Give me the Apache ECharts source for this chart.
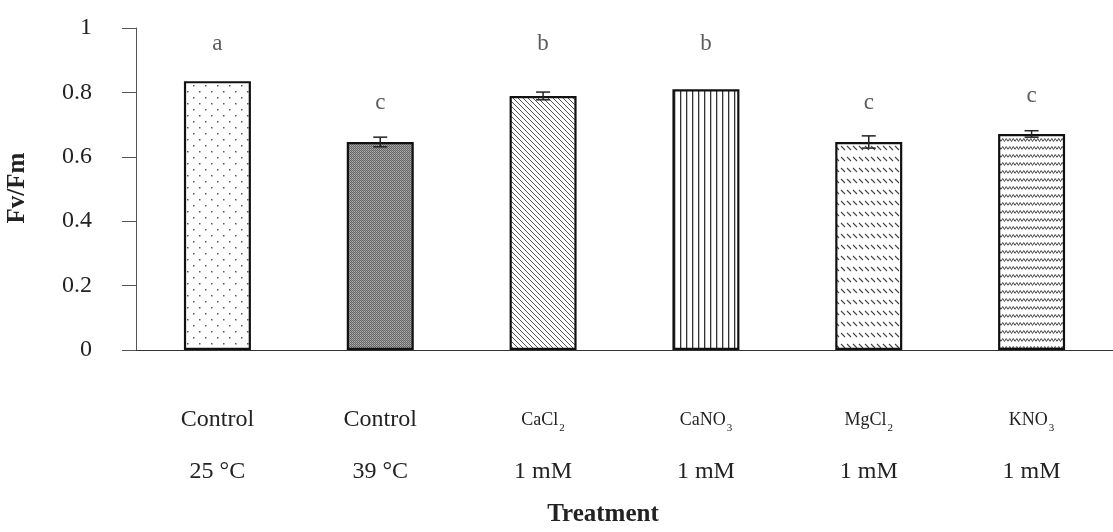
<!DOCTYPE html>
<html>
<head>
<meta charset="utf-8">
<script src="https://cdn.jsdelivr.net/npm/echarts@6/dist/echarts.min.js"></script>
<style>
html,body{margin:0;padding:0;background:#fff;}
#chart{width:1113px;height:532px;}
</style>
</head>
<body>
<div id="chart"></div>
<script>
// ---- data ----
var catLine1 = ['Control', 'Control', '{c|CaCl}{s|2}', '{c|CaNO}{s|3}', '{c|MgCl}{s|2}', '{c|KNO}{s|3}'];
var catLine2 = ['25 °C', '39 °C', '1 mM', '1 mM', '1 mM', '1 mM'];
var fvfm = [0.835, 0.646, 0.789, 0.810, 0.646, 0.671];
var errors = [0, 0.015, 0.012, 0, 0.019, 0.01];
var letters = ['a', 'c', 'b', 'b', 'c', 'c'];
var letterY = [0.95, 0.767, 0.95, 0.95, 0.767, 0.79];
var yTicks = [0, 0.2, 0.4, 0.6, 0.8, 1];

// ---- patterns ----
function makePattern(w, h, draw) {
  var c = document.createElement('canvas');
  c.width = w; c.height = h;
  var ctx = c.getContext('2d');
  ctx.fillStyle = '#fff';
  ctx.fillRect(0, 0, w, h);
  draw(ctx, w, h);
  return { image: c, repeat: 'repeat' };
}
var patDots = makePattern(12, 12, function (ctx) {
  ctx.fillStyle = '#555';
  ctx.fillRect(1, 1, 1.5, 1.5);
  ctx.fillRect(7, 7, 1.5, 1.5);
});
var patStipple = makePattern(4, 4, function (ctx) {
  for (var x = 0; x < 4; x++) for (var y = 0; y < 4; y++) {
    ctx.fillStyle = ((x + y) % 2 === 0) ? '#666' : ((x % 2 === 0) ? '#b0b0b0' : '#959595');
    ctx.fillRect(x, y, 1, 1);
  }
});
var patDiag = makePattern(5, 5, function (ctx) {
  ctx.strokeStyle = '#555';
  ctx.lineWidth = 1;
  ctx.beginPath();
  ctx.moveTo(-1, -1); ctx.lineTo(6, 6);
  ctx.moveTo(-1, 4); ctx.lineTo(1, 6);
  ctx.moveTo(4, -1); ctx.lineTo(6, 1);
  ctx.stroke();
});
var patVert = makePattern(6, 6, function (ctx) {
  ctx.fillStyle = '#333';
  ctx.fillRect(2, 0, 1.3, 6);
});
var patDash = makePattern(6, 11, function (ctx) {
  ctx.strokeStyle = '#444';
  ctx.lineWidth = 1.1;
  ctx.beginPath();
  ctx.moveTo(1, 3); ctx.lineTo(5, 7);
  ctx.stroke();
});
var patZig = makePattern(7, 8, function (ctx) {
  ctx.strokeStyle = '#444';
  ctx.lineWidth = 1;
  ctx.beginPath();
  ctx.moveTo(0, 5.5); ctx.lineTo(1.75, 2.5); ctx.lineTo(3.5, 5.5); ctx.lineTo(5.25, 2.5); ctx.lineTo(7, 5.5);
  ctx.stroke();
});
var patterns = [patDots, patStipple, patDiag, patVert, patDash, patZig];

var categories = catLine1.map(function (l1, i) { return l1 + '\n' + catLine2[i]; });

var serif = '"Liberation Serif", "Times New Roman", serif';
var chart = echarts.init(document.getElementById('chart'), null, { renderer: 'canvas' });

var option = {
  backgroundColor: '#fff',
  animation: false,
  grid: { left: 136, top: 28, width: 984, height: 322 },
  xAxis: {
    type: 'category',
    data: categories,
    axisLine: { show: true, lineStyle: { color: '#333', width: 1.2 } },
    axisTick: { show: false },
    axisLabel: {
      interval: 0,
      margin: 44,
      fontFamily: serif,
      fontSize: 24,
      color: '#222',
      lineHeight: 52,
      rich: {
        c: { fontFamily: serif, fontSize: 18, color: '#222', lineHeight: 52 },
        s: { fontFamily: serif, fontSize: 11, color: '#222', lineHeight: 52, padding: [16, 0, 0, 1] }
      }
    }
  },
  yAxis: {
    type: 'value',
    min: 0, max: 1, interval: 0.2,
    axisLine: { show: true, lineStyle: { color: '#555', width: 1 } },
    axisTick: { show: true, inside: false, length: 14, lineStyle: { color: '#555', width: 1 } },
    splitLine: { show: false },
    axisLabel: {
      margin: 44,
      fontFamily: serif,
      fontSize: 24,
      color: '#222',
      formatter: function (v) {
        for (var i = 0; i < yTicks.length; i++) if (Math.abs(yTicks[i] - v) < 1e-9) return String(yTicks[i]);
        return '';
      }
    }
  },
  graphic: [
    {
      type: 'text',
      x: 18, y: 188,
      rotation: Math.PI / 2,
      style: { text: 'Fv/Fm', font: 'bold 25px ' + serif, fill: '#222', textAlign: 'center', textVerticalAlign: 'middle' }
    },
    {
      type: 'text',
      x: 603, y: 515,
      style: { text: 'Treatment', font: 'bold 25px ' + serif, fill: '#222', textAlign: 'center', textVerticalAlign: 'middle' }
    }
  ],
  series: [
    {
      type: 'bar',
      barWidth: 67,
      data: fvfm.map(function (v, i) {
        return { value: v, itemStyle: { color: patterns[i], borderColor: '#111', borderWidth: 2.2 } };
      }),
      z: 2
    },
    {
      type: 'custom',
      z: 5,
      renderItem: function (params, api) {
        var i = api.value(0);
        var v = api.value(1), e = api.value(2);
        if (!e) return null;
        var top = api.coord([i, v + e]);
        var bot = api.coord([i, v - e]);
        var hw = 7;
        var st = { stroke: '#222', lineWidth: 1.5 };
        return {
          type: 'group',
          children: [
            { type: 'line', shape: { x1: top[0], y1: top[1], x2: bot[0], y2: bot[1] }, style: st },
            { type: 'line', shape: { x1: top[0] - hw, y1: top[1], x2: top[0] + hw, y2: top[1] }, style: st },
            { type: 'line', shape: { x1: bot[0] - hw, y1: bot[1], x2: bot[0] + hw, y2: bot[1] }, style: st }
          ]
        };
      },
      data: fvfm.map(function (v, i) { return [i, v, errors[i]]; })
    },
    {
      type: 'scatter',
      symbolSize: 0,
      z: 6,
      silent: true,
      data: letterY.map(function (y, i) { return [i, y]; }),
      label: {
        show: true,
        position: 'inside',
        fontFamily: serif,
        fontSize: 23,
        color: '#333',
        formatter: function (p) { return letters[p.dataIndex]; }
      }
    }
  ]
};
chart.setOption(option);
</script>
</body>
</html>
